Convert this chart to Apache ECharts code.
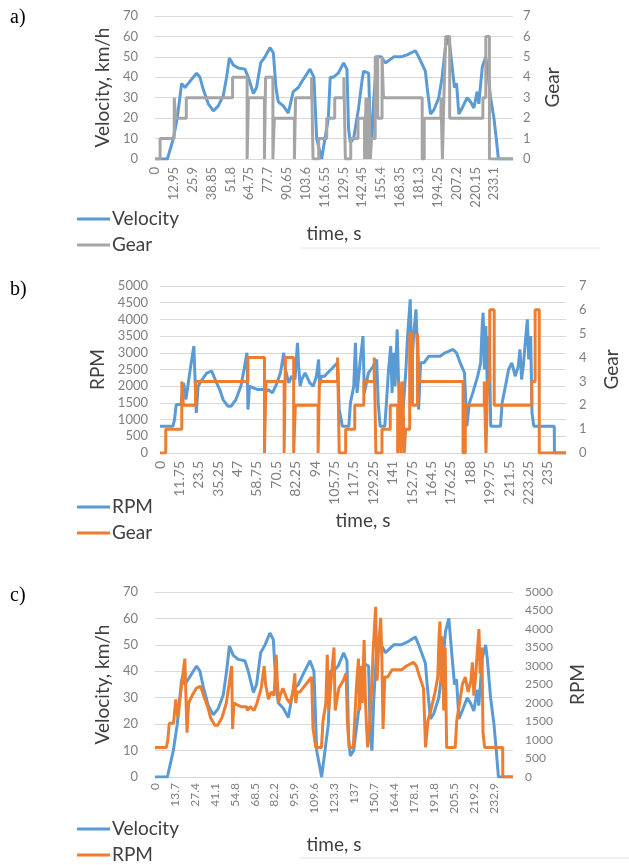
<!DOCTYPE html>
<html><head><meta charset="utf-8">
<script src="https://cdn.jsdelivr.net/npm/echarts/dist/echarts.min.js"></script>
<style>html,body{margin:0;padding:0;background:#fff}#c{width:629px;height:865px}</style>
</head><body><div id="c"></div>
<script>
// ---- data: [time s, value] ----
const velocity = [[0,0],[8.5,0],[12.6,10],[15.3,20],[18.3,37],[20.6,35],[22.9,37],[26.3,40],[28.6,42],[30.9,40],[33.2,34],[36.6,27],[40.1,23.5],[43.5,26],[46.9,31],[49.2,40],[51.1,49.5],[53.8,46],[57.2,44.5],[61.8,44],[64.1,40],[67.6,32],[69.8,35],[72.6,47],[75.6,50],[79.0,54.5],[81.3,52],[83.1,35],[84.7,28],[88.2,26],[91.6,22.5],[95.0,33],[98.5,35],[101.9,39],[106.5,44],[109.2,40],[111.1,10],[114.5,0],[116.8,10],[119.1,20],[120.4,40],[122.5,40],[125.9,42],[129.6,47],[131.9,44],[133.0,15],[134.2,8],[136.5,10],[139.9,25],[142.2,38],[143.3,43],[146.8,42],[147.9,15],[149.1,10],[150.2,28],[152.5,50],[155.5,50],[158.3,47],[164.0,50],[169.0,50],[173.2,51],[178.9,53],[181.2,50],[185.8,43],[187.0,35],[189.3,22],[191.6,24],[195.0,30],[197.3,40],[199.6,55],[201.9,60],[204.2,45],[205.8,35],[207.2,37],[208.8,22],[211.1,25],[214.5,30],[216.8,28],[219.1,25],[221.4,33],[222.5,27],[224.9,45],[227.2,50],[228.3,45],[230.6,30],[232.9,20],[234.5,10],[236.0,0],[246,0]];
const gear = [[0,0],[3.5,1],[13.2,3],[14.2,2],[21.5,3],[53.3,4],[63.3,0],[64.2,3],[75.2,0],[76,4],[81,0],[82,2],[95.8,0],[96.6,3],[107.6,4],[108.6,0],[112.5,1],[118,2],[123.5,3],[129.8,4],[130.8,0],[134.5,1],[139.5,2],[144,0],[145,3],[146,0],[147,3],[148,0],[148.8,1],[151.3,5],[153,2],[156,5],[157,3],[183.6,0],[185,2],[196.5,3],[197.5,0],[198.5,3],[199.8,6],[202.5,2],[225.3,3],[227.3,6],[229.8,0],[246,0]];
const rpm = [[0,800],[7.8,800],[8.8,1000],[9.8,1450],[12.7,1450],[13.7,1500],[14.3,2100],[15.7,1600],[16.6,1900],[18.6,2600],[20.5,3200],[21.3,3200],[22.0,1200],[23.1,2000],[25.5,2200],[28.4,2400],[31.3,2450],[34.3,2100],[36.2,1900],[38.2,1600],[41.1,1400],[43.1,1400],[46.0,1600],[49.0,2000],[50.9,2500],[52.7,3000],[53.3,1300],[54.2,2000],[56.5,1950],[59.2,1900],[63.0,1900],[63.5,1800],[65.4,1900],[68.1,1800],[70.1,2000],[73.0,2400],[75.0,3000],[76.0,2500],[78.0,2100],[79.8,2300],[81.8,2200],[83.3,3300],[83.9,2700],[84.9,2000],[85.9,2200],[87.9,2400],[90.8,2100],[92.8,2000],[94.8,2300],[96.1,2800],[96.7,2000],[97.7,2300],[99.7,2300],[101.6,2400],[103.6,2500],[105.6,2600],[107.6,2700],[108.6,1300],[110.5,800],[114.4,800],[115.4,1500],[117.4,2000],[118.4,3300],[119.4,1800],[121.4,2800],[123,3500],[123.8,1800],[126.3,2400],[129.3,2600],[131.3,2800],[132.2,1500],[133.4,800],[136.2,800],[137.2,1500],[138.5,2500],[139.8,3200],[140.6,1800],[141.4,3000],[142.4,2000],[143.7,3700],[144.5,2200],[145.3,1400],[146.1,800],[147.6,1500],[149,2500],[150,3500],[151.6,4600],[152.6,2600],[153.8,3600],[155.1,4300],[155.9,3200],[156.7,1300],[157.9,2700],[159.9,2700],[162.9,2900],[169.7,2900],[172.7,3000],[177.6,3100],[179.6,3000],[181.9,2700],[184.5,2400],[185.9,800],[187.5,1500],[189.5,1800],[192.5,2300],[194.3,2700],[195.2,3800],[195.8,4200],[196.6,2500],[197.4,3800],[198.4,1800],[199.4,3500],[200.4,800],[206.3,800],[207.3,1500],[209.3,2000],[211.2,2500],[213.2,2700],[215.2,2300],[217.1,2600],[218.1,3100],[219.1,2200],[220.1,2600],[221.5,3400],[222.6,4000],[223.4,2800],[224.6,3500],[225.4,1200],[226.5,800],[238.9,800],[239,0],[246,0]];
const timeMax = 246;
const timeStepA = 12.95, timeStepB = 11.75, timeStepC = 13.7;
const velAxis = [0, 70, 10];
const gearAxis = [0, 7, 1];
const rpmAxis = [0, 5000, 500];
const panelLabels = ['a)', 'b)', 'c)'];

// ---- styles ----
const BLUE = '#5B9BD5', GRAY = '#A5A5A5', ORANGE = '#ED7D31';
const FONT = 'Lato';
const tickColor = '#7f7f7f', titleColor = '#404040';

const chart = echarts.init(document.getElementById('c'), null, {renderer: 'canvas'});

function fmtNum(v) { return String(+(+v).toFixed(2)); }

function xAx(gi, step, fs, margin, gap) {
  return {
    type: 'value', gridIndex: gi, min: 0, max: timeMax, interval: step,
    name: 'time, s', nameLocation: 'middle', nameGap: gap,
    nameTextStyle: {fontFamily: FONT, fontSize: 19, color: titleColor},
    axisLine: {show: true, lineStyle: {color: '#d9d9d9'}},
    axisTick: {show: false}, splitLine: {show: false},
    axisLabel: {rotate: 90, fontFamily: FONT, fontSize: fs, color: tickColor, margin: margin,
      showMaxLabel: false, formatter: v => (Math.abs(v - timeMax) < 1e-6 ? '' : fmtNum(v))}
  };
}
function yAx(gi, ax, pos, name, fs, margin, gap, split) {
  return {
    type: 'value', gridIndex: gi, position: pos, min: ax[0], max: ax[1], interval: ax[2],
    name: name, nameLocation: 'middle', nameRotate: 90, nameGap: gap,
    nameTextStyle: {fontFamily: FONT, fontSize: 19, color: titleColor},
    axisLine: {show: false}, axisTick: {show: false},
    splitLine: {show: split, lineStyle: {color: '#d9d9d9', width: 1}},
    axisLabel: {fontFamily: FONT, fontSize: fs, color: tickColor, margin: margin, formatter: v => String(v)}
  };
}
function ser(name, data, color, xi, yi, step) {
  return {
    name: name, type: 'line', data: data, xAxisIndex: xi, yAxisIndex: yi,
    step: step ? 'end' : false, showSymbol: false, symbol: 'none',
    lineStyle: {color: color, width: 3}, itemStyle: {color: color},
    emphasis: {disabled: true}, animation: false
  };
}
function leg(names, top) {
  return {
    orient: 'vertical', left: 77, top: top, height: 60, padding: 0,
    itemWidth: 33, itemHeight: 3, itemGap: 6,
    icon: 'rect', selectedMode: false,
    textStyle: {fontFamily: FONT, fontSize: 19, lineHeight: 20, color: '#404040', padding: [0, 0, 0, -3]},
    data: names, formatter: n => n.split('|')[0]
  };
}

const option = {
  animation: false,
  grid: [
    {left: 155, top: 16, width: 358, height: 143},
    {left: 160, top: 286, width: 417, height: 167},
    {left: 155, top: 592, width: 358, height: 185}
  ],
  xAxis: [
    xAx(0, timeStepA, 13, 8, 65),
    xAx(1, timeStepB, 14, 8, 58),
    xAx(2, timeStepC, 12, 6, 58)
  ],
  yAxis: [
    yAx(0, velAxis, 'left', 'Velocity, km/h', 13, 17, 41, true),
    yAx(0, gearAxis, 'right', 'Gear', 13, 10, 30, false),
    yAx(1, rpmAxis, 'left', 'RPM', 13, 12, 34, true),
    yAx(1, gearAxis, 'right', 'Gear', 13, 13, 36, false),
    yAx(2, velAxis, 'left', 'Velocity, km/h', 13, 17, 43, true),
    yAx(2, rpmAxis, 'right', 'RPM', 12, 12, 55, false)
  ],
  legend: [
    leg(['Velocity|a', 'Gear|a'], 209),
    leg(['RPM|b', 'Gear|b'], 497),
    leg(['Velocity|c', 'RPM|c'], 819)
  ],
  series: [
    ser('Velocity|a', velocity, BLUE, 0, 0, false),
    ser('Gear|a', gear, GRAY, 0, 1, true),
    ser('RPM|b', rpm, BLUE, 1, 2, false),
    ser('Gear|b', gear, ORANGE, 1, 3, true),
    ser('Velocity|c', velocity, BLUE, 2, 4, false),
    ser('RPM|c', rpm, ORANGE, 2, 5, false)
  ],
  graphic: [
    {type: 'text', left: 10, top: 8, style: {text: panelLabels[0], font: '20px "Liberation Serif"', fill: '#000'}},
    {type: 'text', left: 10, top: 280, style: {text: panelLabels[1], font: '20px "Liberation Serif"', fill: '#000'}},
    {type: 'text', left: 10, top: 586, style: {text: panelLabels[2], font: '20px "Liberation Serif"', fill: '#000'}},
    {type: 'line', shape: {x1: 300, y1: 248, x2: 600, y2: 248}, style: {stroke: '#e6e6e6', lineWidth: 1}},
    {type: 'line', shape: {x1: 300, y1: 858, x2: 629, y2: 858}, style: {stroke: '#e0e0e0', lineWidth: 1}}
  ]
};
chart.setOption(option);
</script>
</body></html>
